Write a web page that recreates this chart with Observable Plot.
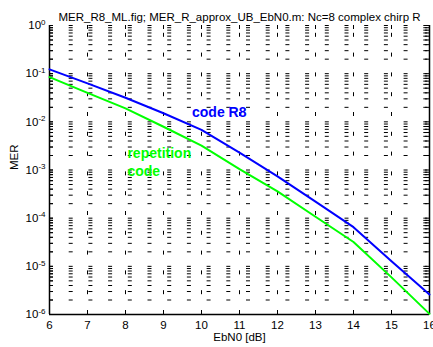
<!DOCTYPE html>
<html><head><meta charset="utf-8">
<script src="https://cdn.jsdelivr.net/npm/d3@7"></script>
<script src="https://cdn.jsdelivr.net/npm/@observablehq/plot@0.6"></script>
<style>body{margin:0;background:#fff} svg{display:block}</style>
</head><body><div id="chart"></div>
<script>
// ---- data ----
const ebn0 = [6, 7, 8, 9, 10, 11, 12, 13, 14, 15, 16];
const merCodeR8 = [0.123, 0.063, 0.0316, 0.0151, 0.0068, 0.0023, 7.4e-4, 2.2e-4, 6.5e-5, 1.28e-5, 2.6e-6];
const merRepetition = [0.085, 0.040, 0.019, 0.0079, 0.0032, 0.00104, 3.6e-4, 1.07e-4, 3.2e-5, 5.9e-6, 1.03e-6];
const xTicks = [6, 7, 8, 9, 10, 11, 12, 13, 14, 15, 16];
const yMajorTicks = [1e-6, 1e-5, 1e-4, 1e-3, 1e-2, 1e-1, 1];
const yTickExponents = ["-6", "-5", "-4", "-3", "-2", "-1", "0"];
const xDomain = [6, 16];
const yDomain = [1e-6, 1];
const annotationText = ["code R8", "repetition", "code"];
const annotationX = [9.75, 8.05, 8.05];
const annotationY = [0.0156, 0.0022, 0.00093];
const annotationColor = ["#0000ff", "#00ff00", "#00ff00"];
const titleText = "MER_R8_ML.fig; MER_R_approx_UB_EbN0.m: Nc=8 complex chirp R";
const xLabel = "EbN0 [dB]";
const yLabel = "MER";

// ---- layout ----
const W = 433, H = 347;
const mL = 49, mR = 4, mT = 25, mB = 33;
const plotW = W - mL - mR, plotH = H - mT - mB;
const tickLen = 4;

const yGrid = d3.scaleLog().domain(yDomain).ticks(); // 1..9 x each decade
const rowsR8 = ebn0.map((x, i) => ({x, y: merCodeR8[i]}));
const rowsRep = ebn0.map((x, i) => ({x, y: merRepetition[i]}));
const annotations = annotationText.map((t, i) => ({t, x: annotationX[i], y: annotationY[i], c: annotationColor[i]}));
const expByTick = new Map(yMajorTicks.map((v, i) => [v, yTickExponents[i]]));

const plot = Plot.plot({
  width: W, height: H,
  marginLeft: mL, marginRight: mR, marginTop: mT, marginBottom: mB,
  style: {fontFamily: "'Liberation Sans', Arial, sans-serif", fontSize: "11.5px", background: "#fff", color: "#000", overflow: "hidden"},
  x: {domain: xDomain},
  y: {type: "log", domain: yDomain},
  marks: [
    // dotted grid
    Plot.ruleY(yGrid, {y: d => d, stroke: "#000", strokeWidth: 1, strokeDasharray: "4,15.7"}),
    Plot.ruleX(xTicks, {x: d => d, y1: () => yDomain[0], y2: () => yDomain[1], stroke: "#000", strokeWidth: 1, strokeDasharray: "4,15.8"}),
    // inward ticks
    Plot.ruleY(yGrid, {y: d => d, insetRight: plotW - tickLen, stroke: "#000"}),
    Plot.ruleY(yGrid, {y: d => d, insetLeft: plotW - tickLen, stroke: "#000"}),
    Plot.ruleX(xTicks, {x: d => d, insetTop: plotH - tickLen, stroke: "#000"}),
    Plot.ruleX(xTicks, {x: d => d, insetBottom: plotH - tickLen, stroke: "#000"}),
    // axis box (left, right, bottom)
    Plot.ruleX([xDomain[0], xDomain[1]], {x: d => d, stroke: "#000", strokeWidth: 1.5}),
    Plot.ruleY([yDomain[0]], {y: d => d, stroke: "#000", strokeWidth: 1.5}),
    // data lines
    Plot.line(rowsR8, {x: "x", y: "y", stroke: "#0000ff", strokeWidth: 2}),
    Plot.line(rowsRep, {x: "x", y: "y", stroke: "#00ff00", strokeWidth: 2}),
    // annotations
    Plot.text(annotations, {x: "x", y: "y", text: "t", fill: "c", textAnchor: "start", fontWeight: "bold", fontSize: 14}),
    // axes
    Plot.axisX({ticks: xTicks, tickSize: 0, tickPadding: 6, tickFormat: d => String(d), label: null}),
    Plot.axisY({ticks: yMajorTicks, tickSize: 0, tickPadding: 4, tickFormat: d => expByTick.get(d) ?? "", label: null}),
    // labels and title
    Plot.text([xLabel], {frameAnchor: "bottom", dy: 26, text: d => d, fontSize: 11.5}),
    Plot.text([yLabel], {frameAnchor: "left", dx: -35, rotate: -90, text: d => d, fontSize: 11.5}),
    Plot.text([titleText], {frameAnchor: "top", dy: -13, text: d => d, fontSize: 11.5})
  ]
});

// turn exponent labels into "10" with a superscript exponent
d3.select(plot).selectAll('g[aria-label="y-axis tick label"] text').each(function() {
  const t = d3.select(this);
  const e = t.text();
  t.text(null);
  t.append("tspan").text("10");
  t.append("tspan").attr("dy", "-0.55em").attr("font-size", "8px").text(e);
});

document.getElementById("chart").appendChild(plot);
</script>
</body></html>
